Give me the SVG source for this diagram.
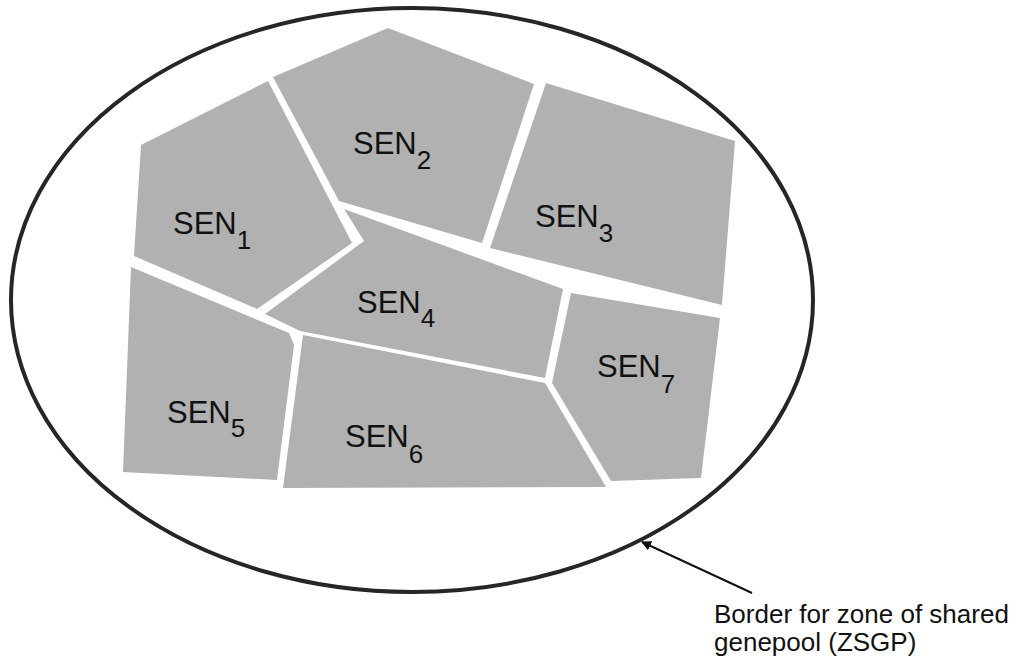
<svg xmlns="http://www.w3.org/2000/svg" width="1020" height="664" viewBox="0 0 1020 664">
  <style>
    .zone { fill: #b1b1b1; stroke: none; }
    .lbl { font-family: "Liberation Sans", Arial, sans-serif; font-size: 31px; fill: #111; }
    .sub { font-size: 26px; }
    .note { font-family: "Liberation Sans", Arial, sans-serif; font-size: 26px; fill: #111; }
  </style>
  <defs>
    <marker id="arrowhead" viewBox="0 0 10 10" refX="9" refY="5" markerWidth="5" markerHeight="5" orient="auto-start-reverse" markerUnits="strokeWidth">
      <path d="M0,0 L10,5 L0,10 Z" fill="#111"/>
    </marker>
  </defs>

  <rect width="1020" height="664" fill="#ffffff"/>

  <!-- ZSGP border -->
  <g id="zsgp-border">
    <ellipse cx="412" cy="300" rx="401" ry="292" fill="none" stroke="#262626" stroke-width="4"/>
  </g>

  <!-- sub-populations -->
  <g id="sen1">
    <polygon class="zone" points="141,145 268,81 352,243 257,309 134,256"/>
    <text class="lbl" x="173" y="234">SEN<tspan class="sub" dy="15">1</tspan></text>
  </g>
  <g id="sen2">
    <polygon class="zone" points="273,77 388,28 534,84 482,243 339,201"/>
    <text class="lbl" x="353" y="154">SEN<tspan class="sub" dy="15">2</tspan></text>
  </g>
  <g id="sen3">
    <polygon class="zone" points="546,83 735,141 722,305 490,248"/>
    <text class="lbl" x="535" y="227">SEN<tspan class="sub" dy="15">3</tspan></text>
  </g>
  <g id="sen4">
    <polygon class="zone" points="344,209 563,289 545,378 300,331 265,314 364,241"/>
    <text class="lbl" x="357" y="313">SEN<tspan class="sub" dy="14">4</tspan></text>
  </g>
  <g id="sen5">
    <polygon class="zone" points="131,267 289,333 294,345 277,480 123,472"/>
    <text class="lbl" x="167" y="423">SEN<tspan class="sub" dy="14">5</tspan></text>
  </g>
  <g id="sen6">
    <polygon class="zone" points="303,335 545,383 606,487 283,488"/>
    <text class="lbl" x="345" y="447">SEN<tspan class="sub" dy="16">6</tspan></text>
  </g>
  <g id="sen7">
    <polygon class="zone" points="571,293 720,318 701,478 611,481 552,383"/>
    <text class="lbl" x="597" y="377">SEN<tspan class="sub" dy="16">7</tspan></text>
  </g>

  <!-- connectors -->
  <g id="connectors">
    <line x1="752" y1="593" x2="642" y2="542" stroke="#111" stroke-width="2" marker-end="url(#arrowhead)"/>
  </g>

  <g id="caption">
    <text class="note" x="714" y="623">Border for zone of shared</text>
    <text class="note" x="714" y="651">genepool (ZSGP)</text>
  </g>
</svg>
